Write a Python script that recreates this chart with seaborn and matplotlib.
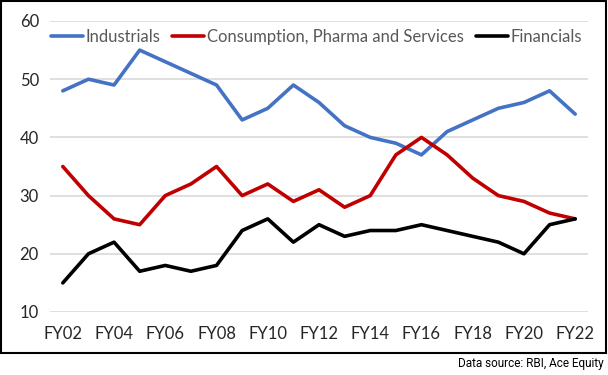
import numpy as np
import pandas as pd
import matplotlib
matplotlib.use('Agg')
import matplotlib.pyplot as plt
from matplotlib.patches import Rectangle
import seaborn as sns

years = ['FY%02d' % y for y in range(2, 23)]
industrials = [48, 50, 49, 55, 53, 51, 49, 43, 45, 49, 46, 42, 40, 39, 37, 41, 43, 45, 46, 48, 44]
consumption = [35, 30, 26, 25, 30, 32, 35, 30, 32, 29, 31, 28, 30, 37, 40, 37, 33, 30, 29, 27, 26]
financials = [15, 20, 22, 17, 18, 17, 18, 24, 26, 22, 25, 23, 24, 24, 25, 24, 23, 22, 20, 25, 26]
series_names = ['Industrials', 'Consumption, Pharma and Services', 'Financials']
colors = ['#4472C4', '#C00000', '#000000']

df = pd.DataFrame({'year': years * 3,
                   'idx': list(range(len(years))) * 3,
                   'value': industrials + consumption + financials,
                   'series': np.repeat(series_names, len(years))})

sns.set_style('white')
plt.rcParams['font.family'] = ['Lato', 'DejaVu Sans']

fig = plt.figure(figsize=(6.08, 3.75), dpi=100)
W, H = 608, 375
ax = fig.add_axes([50 / W, 1 - 312 / H, 538 / W, 291 / H])

sns.lineplot(data=df, x='idx', y='value', hue='series', hue_order=series_names,
             palette=colors, linewidth=2.6, ax=ax, legend=True)

ax.set_xlim(-0.5, len(years) - 0.5)
ax.set_ylim(10, 60)
ax.set_yticks(range(10, 61, 10))
ax.set_xticks(range(0, len(years), 2))
ax.set_xticklabels(years[::2])
ax.grid(axis='y', color='#d9d9d9', linewidth=1.2)
ax.set_axisbelow(True)
for s in ax.spines.values():
    s.set_visible(False)
ax.set_xlabel('')
ax.set_ylabel('')
ax.tick_params(axis='both', length=0, labelsize=12, colors='#262626')
ax.tick_params(axis='x', pad=10)
ax.tick_params(axis='y', pad=8)

handles, labels = ax.get_legend_handles_labels()
for h in handles:
    h.set_linewidth(2.6)
leg = ax.legend(handles, labels, loc='upper center', bbox_to_anchor=(0.495, 1.0),
                ncol=3, frameon=False, fontsize=12, handlelength=1.9,
                handletextpad=0.15, columnspacing=0.75, borderaxespad=0.1)
for t in leg.get_texts():
    t.set_color('#595959')

fig.patches.append(Rectangle((1 / W, 1 - 353 / H), 605 / W, 352 / H, transform=fig.transFigure,
                             fill=False, edgecolor='black', linewidth=1.5))
fig.text(604 / W, 1 - 363 / H, 'Data source: RBI, Ace Equity', ha='right', va='center',
         fontsize=8.5, family=['Roboto', 'DejaVu Sans'], color='black')

fig.savefig('out.png', dpi=100)
